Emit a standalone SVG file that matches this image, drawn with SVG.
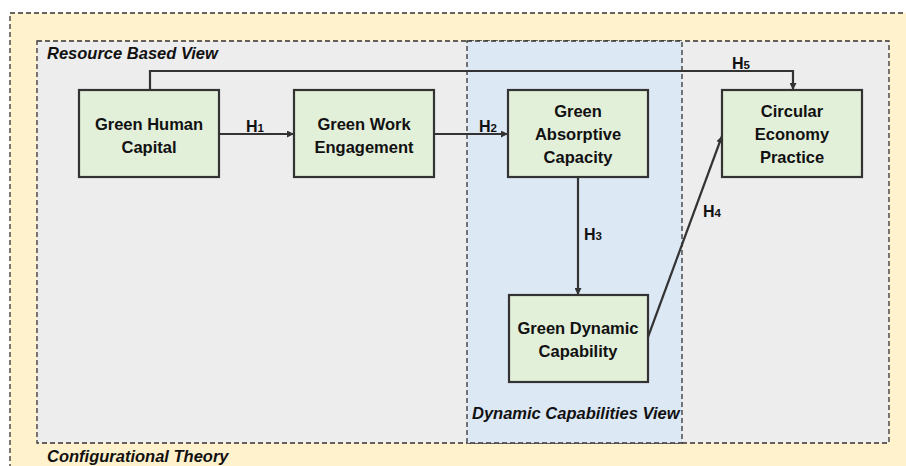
<svg xmlns="http://www.w3.org/2000/svg" width="906" height="466" viewBox="0 0 906 466">
<defs>
<marker id="ah" viewBox="0 0 10 10" refX="10" refY="5" markerWidth="7" markerHeight="7" markerUnits="userSpaceOnUse" orient="auto">
<path d="M0,0 L10,5 L0,10 z" fill="#333"/>
</marker>
<style>
.node rect{fill:#e2efd9;stroke:#333;stroke-width:2.2}
.node text{font-family:"Liberation Sans",Arial,sans-serif;font-weight:bold;font-size:16.5px;fill:#111;text-anchor:middle}
.conn{fill:none;stroke:#333;stroke-width:2.2}
.lbl{font-family:"Liberation Sans",Arial,sans-serif;font-weight:bold;font-size:16px;fill:#111}
.sub{font-size:11.5px}
.area{font-family:"Liberation Sans",Arial,sans-serif;font-weight:bold;font-style:italic;font-size:16.5px;fill:#111}
.dash{stroke:#333;stroke-width:1.3;stroke-dasharray:5,3}
</style>
</defs>
<rect width="906" height="466" fill="#ffffff"/>
<g id="configurational-theory">
<rect x="10" y="13" width="906" height="470" fill="#fff2cc" class="dash"/>
<text class="area" x="47" y="462">Configurational Theory</text>
</g>
<g id="resource-based-view">
<rect x="37" y="41" width="852" height="402" fill="#ededed" class="dash"/>
<text class="area" x="47" y="59">Resource Based View</text>
</g>
<g id="dynamic-capabilities-view">
<rect x="467" y="41" width="215" height="402" fill="#dde8f5" class="dash"/>
<text class="area" x="472" y="419">Dynamic Capabilities View</text>
</g>
<g id="connectors">
<line class="conn" x1="219" y1="134" x2="294" y2="134" marker-end="url(#ah)"/>
<line class="conn" x1="434" y1="134" x2="508" y2="134" marker-end="url(#ah)"/>
<line class="conn" x1="578" y1="177" x2="578" y2="295" marker-end="url(#ah)"/>
<line class="conn" x1="648" y1="337" x2="722" y2="136" marker-end="url(#ah)"/>
<polyline class="conn" points="150,90 150,71 793,71 793,90" marker-end="url(#ah)"/>
<text class="lbl" x="246" y="132">H<tspan class="sub">1</tspan></text>
<text class="lbl" x="479" y="132">H<tspan class="sub">2</tspan></text>
<text class="lbl" x="584" y="240">H<tspan class="sub">3</tspan></text>
<text class="lbl" x="703" y="217">H<tspan class="sub">4</tspan></text>
<text class="lbl" x="732" y="69">H<tspan class="sub">5</tspan></text>
</g>
<g id="green-human-capital" class="node">
<rect x="79" y="90" width="140" height="87"/>
<text x="149" y="130">Green Human</text>
<text x="149" y="153">Capital</text>
</g>
<g id="green-work-engagement" class="node">
<rect x="294" y="90" width="140" height="87"/>
<text x="364" y="130">Green Work</text>
<text x="364" y="153">Engagement</text>
</g>
<g id="green-absorptive-capacity" class="node">
<rect x="508" y="90" width="140" height="87"/>
<text x="578" y="117">Green</text>
<text x="578" y="140">Absorptive</text>
<text x="578" y="163">Capacity</text>
</g>
<g id="circular-economy-practice" class="node">
<rect x="722" y="90" width="140" height="87"/>
<text x="792" y="117">Circular</text>
<text x="792" y="140">Economy</text>
<text x="792" y="163">Practice</text>
</g>
<g id="green-dynamic-capability" class="node">
<rect x="509" y="295" width="139" height="87"/>
<text x="578" y="334">Green Dynamic</text>
<text x="578" y="357">Capability</text>
</g>
</svg>
